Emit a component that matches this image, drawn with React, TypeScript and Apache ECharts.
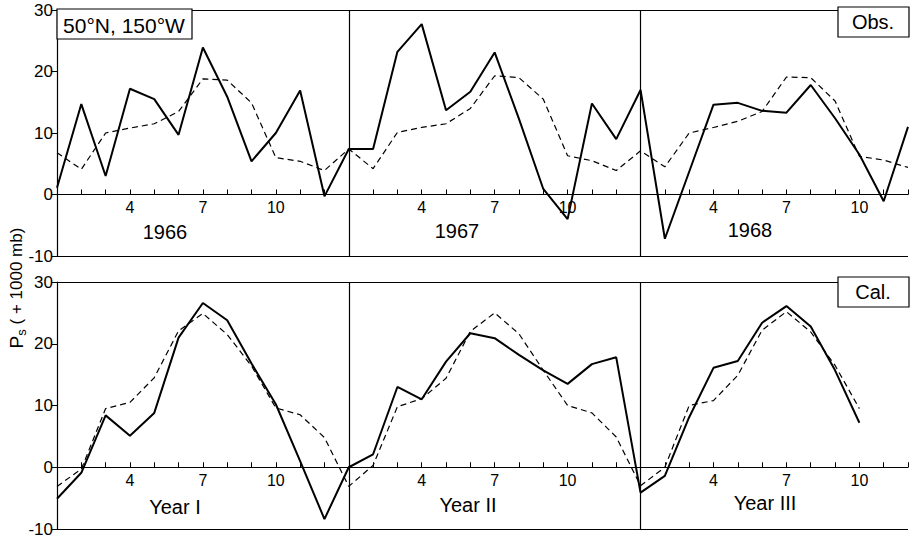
import React, { useEffect, useRef } from 'react';
import * as echarts from 'echarts';

// month positions 1..36 (three years, Jan..Dec)
const monthPositions: number[] = Array.from({ length: 36 }, (_, i) => i + 1);
const labelledMonths = [4, 7, 10];
const yearBoundaries = [13, 25];
const yMin = -10;
const yMax = 30;
const yStep = 10;

const obsYears = ['1966', '1967', '1968'];
const calYears = ['Year I', 'Year II', 'Year III'];

// Observed (solid) and climatological/reference (dashed) Ps (+1000 mb)
const obsSolid = [
  1.1, 14.7, 3.0, 17.2, 15.5, 9.7, 23.9, 15.9, 5.4, 10.0, 16.9, -0.3,
  7.4, 7.4, 23.2, 27.7, 13.7, 16.7, 23.1, 12.3, 0.9, -4.0, 14.8, 9.0,
  17.0, -7.2, 3.7, 14.6, 14.9, 13.6, 13.3, 17.8, 12.4, 6.5, -1.1, 11.0,
];
const obsDashed = [
  6.8, 4.1, 10.0, 10.8, 11.5, 13.5, 18.8, 18.6, 14.9, 6.0, 5.4, 3.9,
  7.4, 4.2, 10.1, 10.9, 11.5, 14.0, 19.3, 19.0, 15.5, 6.3, 5.5, 3.9,
  7.1, 4.5, 10.0, 10.9, 11.9, 13.5, 19.1, 19.0, 15.2, 6.2, 5.6, 4.4,
];
// Calculated
const calSolid = [
  -5.1, -0.9, 8.4, 5.1, 8.8, 21.0, 26.6, 23.8, 16.8, 10.2, 1.0, -8.4,
  0.0, 2.1, 13.0, 11.0, 17.1, 21.7, 20.9, 18.2, 15.7, 13.5, 16.7, 17.8,
  -4.1, -1.4, 8.1, 16.1, 17.2, 23.4, 26.1, 22.8, 15.7, 7.2,
];
const calDashed = [
  -3.1, -0.3, 9.5, 10.5, 14.5, 22.1, 24.9, 21.5, 16.4, 9.6, 8.5, 4.8,
  -3.1, 0.3, 9.8, 11.1, 14.4, 22.0, 25.0, 21.6, 15.7, 10.0, 8.8, 4.9,
  -3.0, 0.0, 10.0, 10.8, 14.9, 22.2, 25.2, 21.9, 16.5, 9.5,
];

const FONT = 'Liberation Sans, Arial, sans-serif';

export default function App() {
  const ref = useRef<HTMLDivElement>(null);
  useEffect(() => {
    document.body.style.margin = '0';
    if (!ref.current) return;
    const chart = echarts.init(ref.current, null, { renderer: 'svg' });
    const toPts = (arr: number[]) => arr.map((v, i) => [monthPositions[i], v]);
    const monthOf = (v: number) => ((Math.round(v) - 1) % 12) + 1;

    const grids = [
      { left: 57, top: 10, width: 853, height: 246 },
      { left: 57, top: 282, width: 853, height: 247 },
    ];
    const xAxis = grids.map((g, gi) => ({
      type: 'value',
      gridIndex: gi,
      min: 1,
      max: 36,
      interval: 1,
      position: 'bottom',
      // place the month axis on the zero line
      offset: -(g.height * (0 - yMin)) / (yMax - yMin),
      axisLine: { show: true, onZero: false, lineStyle: { color: '#000', width: 1.2 } },
      axisTick: { show: true, inside: true, length: 5, lineStyle: { color: '#000', width: 1 } },
      axisLabel: {
        show: true,
        margin: 5,
        fontSize: 16,
        fontFamily: FONT,
        color: '#000',
        showMinLabel: true,
        showMaxLabel: true,
        formatter: (v: number) => (labelledMonths.includes(monthOf(v)) ? String(monthOf(v)) : ''),
      },
      splitLine: { show: false },
    }));
    const yAxis = grids.map((_, gi) => ({
      type: 'value',
      gridIndex: gi,
      min: yMin,
      max: yMax,
      interval: yStep,
      axisLine: { show: true, onZero: false, lineStyle: { color: '#000', width: 1.2 } },
      axisTick: { show: true, inside: false, length: 5, lineStyle: { color: '#000' } },
      axisLabel: { margin: 4, fontSize: 17, fontFamily: FONT, color: '#000' },
      splitLine: { show: false },
    }));

    const frameMarks = {
      silent: true,
      symbol: ['none', 'none'],
      label: { show: false },
      lineStyle: { type: 'solid', color: '#000', width: 1.2 },
      data: [
        { yAxis: yMax },
        { yAxis: yMin },
        ...yearBoundaries.map((b) => ({ xAxis: b })),
      ],
    };

    const solidStyle = { color: '#000', width: 2 };
    const dashedStyle = { color: '#000', width: 1.2, type: [6, 4] };

    const series = [
      { data: obsSolid, g: 0, style: solidStyle, mark: true },
      { data: obsDashed, g: 0, style: dashedStyle, mark: false },
      { data: calSolid, g: 1, style: solidStyle, mark: true },
      { data: calDashed, g: 1, style: dashedStyle, mark: false },
    ].map((s) => ({
      type: 'line',
      xAxisIndex: s.g,
      yAxisIndex: s.g,
      data: toPts(s.data),
      symbol: 'none',
      lineStyle: s.style,
      z: s.mark ? 3 : 2,
      markLine: s.mark ? frameMarks : undefined,
    }));

    const txt = (text: string, x: number, y: number, size = 20) => ({
      type: 'text',
      x,
      y,
      z: 10,
      style: {
        text,
        fontSize: size,
        fontFamily: FONT,
        fill: '#000',
        textAlign: 'center',
        textVerticalAlign: 'middle',
        align: 'center',
        verticalAlign: 'middle',
      },
    });
    const box = (x: number, y: number, w: number, h: number) => ({
      type: 'rect',
      z: 9,
      shape: { x, y, width: w, height: h },
      style: { fill: '#fff', stroke: '#000', lineWidth: 1.2 },
    });

    const graphic = [
      box(57, 9, 135, 30),
      txt('50°N, 150°W', 124, 25, 21),
      box(838, 7, 71, 30),
      txt('Obs.', 873, 22),
      box(838, 277, 71, 30),
      txt('Cal.', 873, 292),
      txt(obsYears[0], 165, 232),
      txt(obsYears[1], 457, 231),
      txt(obsYears[2], 750, 230),
      txt(calYears[0], 175, 507),
      txt(calYears[1], 468, 505),
      txt(calYears[2], 765, 503),
      {
        type: 'text',
        x: 16,
        y: 288,
        rotation: Math.PI / 2,
        z: 10,
        style: {
          text: '{p|P}{s|s}{n| ( + 1000 mb)}',
          textAlign: 'center',
          textVerticalAlign: 'middle',
          align: 'center',
          verticalAlign: 'middle',
          fill: '#000',
          rich: {
            p: { fontSize: 19, fontFamily: FONT, color: '#000' },
            s: { fontSize: 13, fontFamily: FONT, color: '#000', padding: [10, 0, 0, 0] },
            n: { fontSize: 17, fontFamily: FONT, color: '#000' },
          },
        },
      },
    ];

    chart.setOption({
      animation: false,
      backgroundColor: '#fff',
      grid: grids,
      xAxis,
      yAxis,
      series,
      graphic,
    });
    return () => chart.dispose();
  }, []);
  return (
    <div
      ref={ref}
      style={{ position: 'fixed', left: 0, top: 0, width: 911, height: 543, background: '#fff' }}
    />
  );
}
